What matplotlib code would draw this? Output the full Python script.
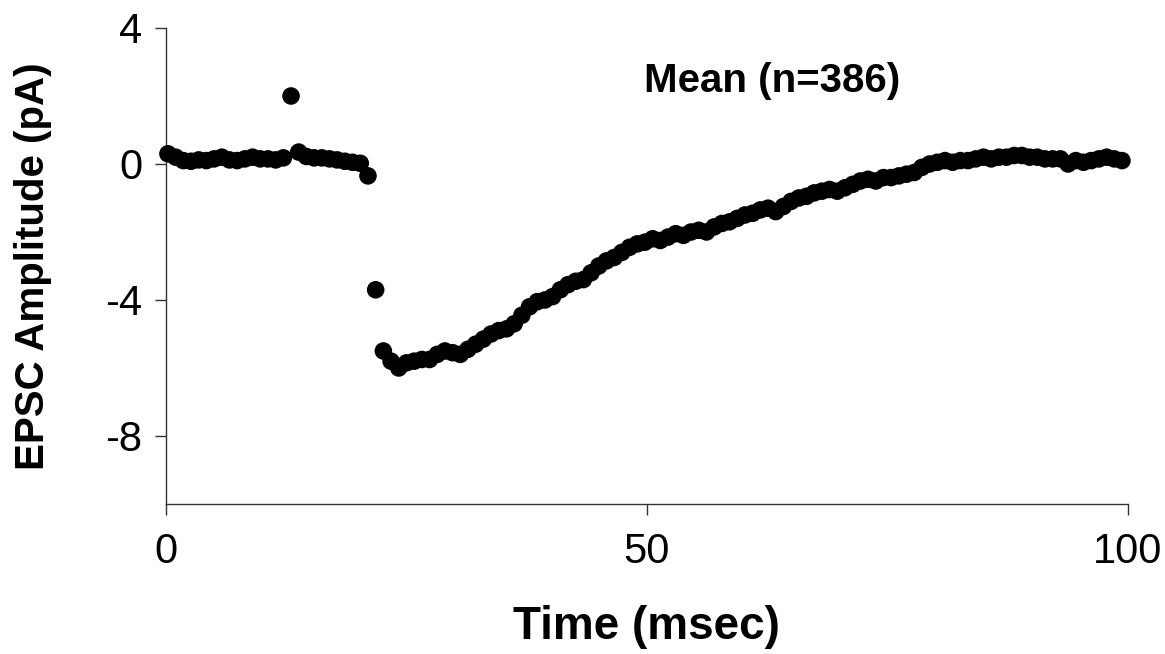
import numpy as np
import matplotlib
matplotlib.use("Agg")
import matplotlib.pyplot as plt

plt.rcParams['font.family'] = ['Liberation Sans', 'DejaVu Sans']
plt.rcParams['axes.unicode_minus'] = False

# sampling: 125 points, 0.8 ms apart
t_start = 0.2
t_step = 0.8

amplitude = [
    # 0.2 - 12.2 ms baseline
    0.30, 0.20, 0.10, 0.08, 0.12, 0.10, 0.15, 0.20, 0.12, 0.10,
    0.15, 0.20, 0.15, 0.15, 0.12, 0.18,
    # artefact spike and pre-event baseline
    2.00, 0.35, 0.22, 0.18, 0.18, 0.15, 0.12, 0.08, 0.05, 0.02,
    # onset
    -0.35, -3.70, -5.50, -5.80,
    # decay
    -6.00, -5.85, -5.80, -5.75, -5.75, -5.60, -5.50, -5.55, -5.60, -5.45,
    -5.30, -5.15, -5.00, -4.90, -4.85, -4.70, -4.45, -4.20, -4.05, -4.00,
    -3.90, -3.70, -3.55, -3.45, -3.40, -3.20, -3.00, -2.85, -2.75, -2.60,
    -2.45, -2.35, -2.30, -2.20, -2.25, -2.15, -2.05, -2.10, -2.00, -1.95,
    -2.00, -1.85, -1.75, -1.70, -1.60, -1.50, -1.45, -1.35, -1.30, -1.40,
    -1.25, -1.10, -1.00, -0.95, -0.85, -0.80, -0.75, -0.80, -0.70, -0.60,
    -0.50, -0.45, -0.50, -0.40, -0.40, -0.35, -0.30, -0.25, -0.10, 0.00,
    0.05, 0.10, 0.05, 0.10, 0.10, 0.15, 0.20, 0.15, 0.20, 0.20,
    0.25, 0.25, 0.20, 0.20, 0.15, 0.15, 0.15, 0.00, 0.10, 0.05,
    0.10, 0.15, 0.20, 0.15, 0.10,
]
time_ms = t_start + t_step * np.arange(len(amplitude))

x_ticks = [0, 50, 100]
y_ticks = [4, 0, -4, -8]
annotation = "Mean (n=386)"

fig = plt.figure(figsize=(11.65, 6.54), dpi=100)
ax = fig.add_axes([0.1425, 0.2294, 0.968 - 0.1425, 0.9572 - 0.2294])

ax.scatter(time_ms, amplitude, s=160, color='black', edgecolors='none', zorder=3, clip_on=False)

ax.set_xlim(0, 100)
ax.set_ylim(-10, 4)
ax.set_xticks(x_ticks)
ax.set_yticks(y_ticks)
ax.set_xticklabels([str(v) for v in x_ticks])
ax.set_yticklabels([str(v) for v in y_ticks])

for s in ['top', 'right']:
    ax.spines[s].set_visible(False)
for s in ['left', 'bottom']:
    ax.spines[s].set_linewidth(1.0)
    ax.spines[s].set_color('#333333')

ax.tick_params(axis='both', direction='out', length=8, width=1.0, color='#333333',
               labelsize=30)
ax.tick_params(axis='y', pad=9)
ax.tick_params(axis='x', pad=12)

ax.set_xlabel("Time (msec)", fontsize=33, fontweight='bold', labelpad=24)
ax.set_ylabel("EPSC Amplitude (pA)", fontsize=29, fontweight='bold', labelpad=38)

ax.text(63.0, 2.45, annotation, fontsize=29, fontweight='bold', ha='center', va='center')

fig.savefig("out.png", dpi=100)
